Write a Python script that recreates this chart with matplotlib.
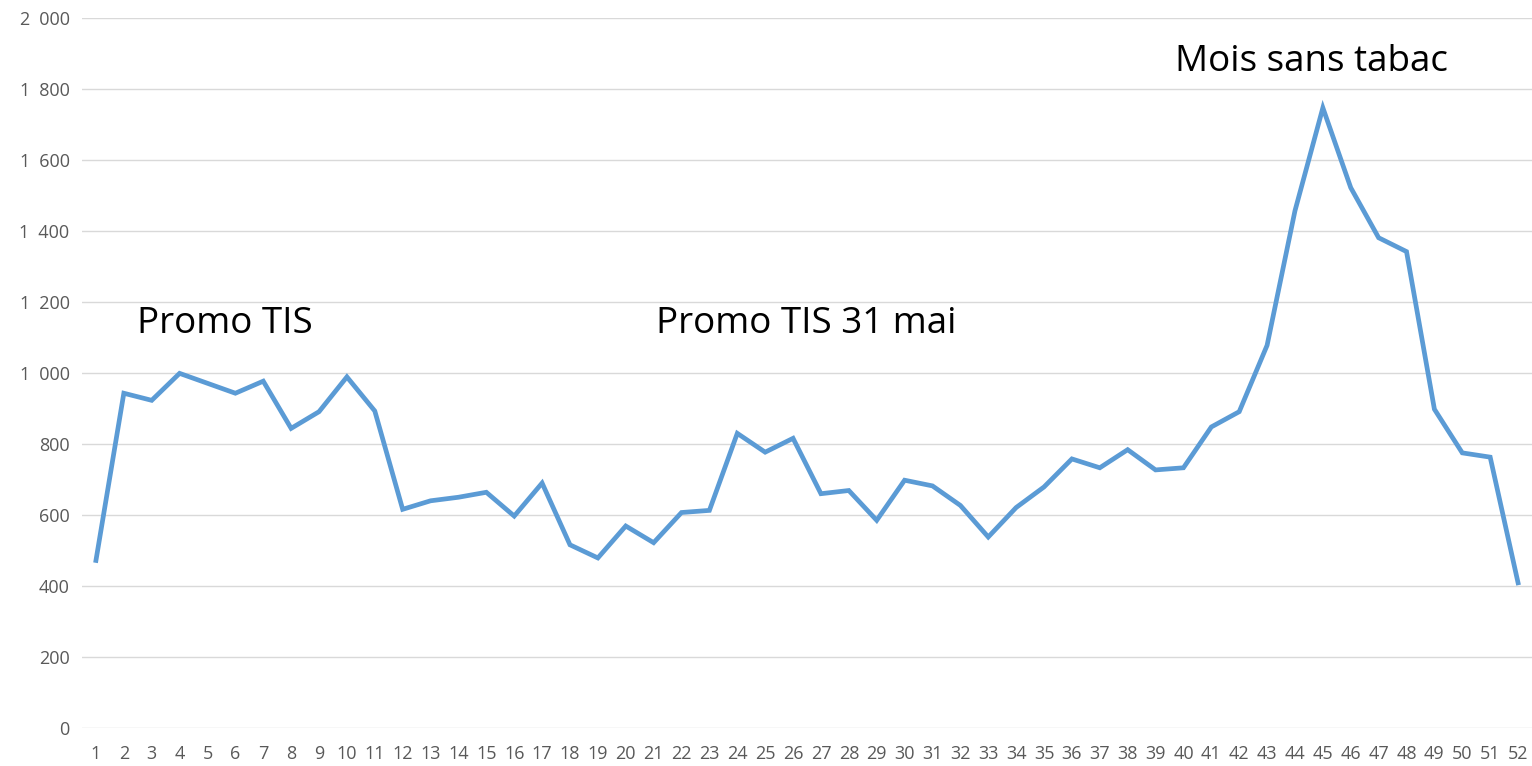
import matplotlib
matplotlib.use("Agg")
import matplotlib.pyplot as plt
import matplotlib.ticker as mticker

# semaines et valeurs
semaines = list(range(1, 53))
valeurs = [472, 943, 923, 999, 971, 943, 977, 844, 891, 989,
           893, 616, 640, 650, 664, 597, 690, 516, 479, 569,
           522, 607, 613, 830, 777, 816, 660, 669, 585, 698,
           682, 627, 538, 621, 679, 758, 733, 784, 727, 733,
           848, 891, 1078, 1457, 1747, 1522, 1381, 1342, 898, 775,
           763, 409]

# annotations: texte, x, y
notes_txt = ["Promo TIS", "Promo TIS 31 mai", "Mois sans tabac"]
notes_x = [2.47, 21.08, 39.7]
notes_y = [1138, 1138, 1876]

plt.rcParams['font.family'] = ['Open Sans', 'DejaVu Sans']

fig = plt.figure(figsize=(15.32, 7.66), dpi=100)
ax = fig.add_axes([82 / 1532, 38 / 766, 1450 / 1532, 710 / 766])

ax.plot(semaines, valeurs, color='#5B9BD5', linewidth=3.4, solid_joinstyle='miter', zorder=3)

ax.set_xlim(0.5, 52.5)
ax.set_ylim(0, 2000)
ax.set_xticks(semaines)
ax.set_yticks(range(0, 2001, 200))
ax.yaxis.set_major_formatter(mticker.FuncFormatter(lambda v, p: f"{int(v):,}".replace(",", "\u2002")))
ax.tick_params(axis='both', length=0, labelsize=13, labelcolor='#595959')
ax.tick_params(axis='y', pad=9)
ax.tick_params(axis='x', pad=12)

ax.grid(axis='y', color='#D9D9D9', linewidth=1)
ax.set_axisbelow(True)
for s in ax.spines.values():
    s.set_visible(False)

for t, x, y in zip(notes_txt, notes_x, notes_y):
    ax.text(x, y, t, fontsize=26.5, color='black', ha='left', va='center')

fig.savefig('out.png', dpi=100)
